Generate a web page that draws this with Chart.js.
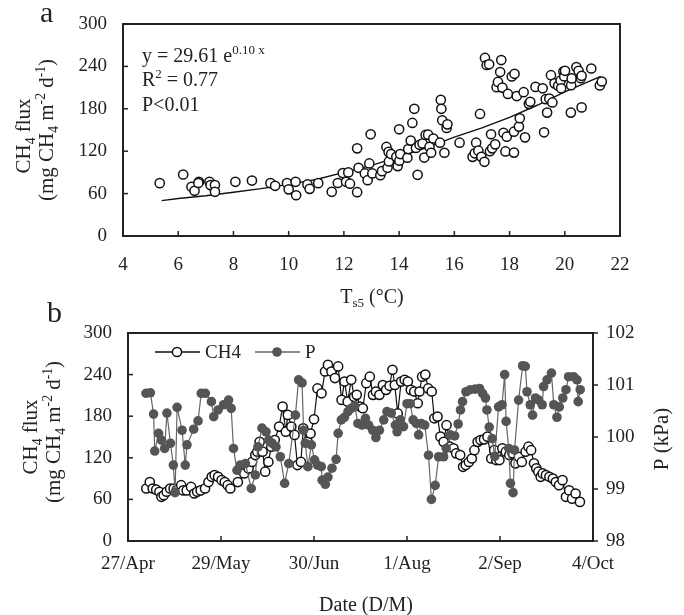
<!DOCTYPE html>
<html>
<head>
<meta charset="utf-8">
<script src="https://cdn.jsdelivr.net/npm/chart.js@4.4.1/dist/chart.umd.min.js"></script>
<style>
  body { margin: 0; background: #fff; }
  canvas { position: absolute; left: 0; }
  #chartA { top: 0; }
  #chartB { top: 300px; }
</style>
</head>
<body>
<canvas id="chartA" width="684" height="315"></canvas>
<canvas id="chartB" width="684" height="315"></canvas>
<script>
// ---- panel a: soil temperature (Ts5) vs CH4 flux ----
const soilTemp = [5.33,6.18,6.48,6.59,6.75,6.73,7.13,7.17,7.33,7.33,
  8.07,8.67,9.34,9.51,9.94,10.0,10.25,10.27,10.68,10.76,
  11.07,11.56,11.78,11.96,12.08,12.16,12.22,12.48,12.48,12.53,
  12.76,12.86,12.92,12.97,13.03,13.32,13.38,13.54,13.58,13.63,
  13.62,13.71,13.9,13.95,14.0,14.01,14.04,14.3,14.33,14.42,
  14.48,14.55,14.61,14.67,14.74,14.85,14.91,14.96,15.05,15.1,
  15.16,15.24,15.48,15.51,15.53,15.56,15.64,15.72,15.75,16.19,
  16.66,16.74,16.79,16.87,16.93,16.98,17.09,17.11,17.17,17.26,
  17.29,17.33,17.37,17.48,17.53,17.58,17.66,17.7,17.74,17.78,
  17.85,17.9,17.94,18.08,18.18,18.16,18.16,18.26,18.34,18.37,
  18.51,18.56,18.7,18.75,18.94,19.2,19.25,19.31,19.36,19.44,
  19.5,19.55,19.63,19.76,19.85,19.87,19.95,19.98,20.01,20.22,
  20.23,20.25,20.42,20.5,20.58,20.61,20.61,20.96,21.27,21.34];
const fluxA = [74.8,87,69.6,64,76.7,75,76.7,72,72,62.5,
  76.7,78.5,74.8,71,74.8,66,76.7,57.7,73,66.7,
  74.8,62.5,75,89,76.7,90,74,124,62,96.5,
  88.5,79,102.7,143.9,88.5,86,91.8,126,96.5,105.5,
  119,116,112,98.9,151,106.5,116,110.7,123,135,
  160,180,124.5,86.6,129,131,111,143,143.4,126,
  117.8,138,132,192.6,180,163.7,117.8,153,158,132,
  112,117,132,120.7,172.7,112,105,252,242,243,
  120,144,124,129.7,210.6,218,232,249,210,146,
  119.7,140.5,201,225.7,229.5,147.6,118,198,154.8,166.6,
  203.5,139.6,187,190,211,209,146.7,193.6,174.6,194.5,
  227.6,189,216,212.5,220,209,232.8,225.7,233.8,174.6,
  213.4,223,239,233.8,223.4,182,226.7,237,213,218.6];
// fitted curve
const fitTemp = [5.4,6,7,8,9,10,11,12,13,14,15,16,17,18,19,20,21.3];
const fitFlux = [50,53,57,62,67,73,80,90,100,112,125,140,153,168,185,204,226];

// ---- panel b: time series (days since 27/Apr) ----
const dateLabels = ['27/Apr','29/May','30/Jun','1/Aug','2/Sep','4/Oct'];
const ch4Day = [6.3,7.5,8.5,9.7,10.8,11.5,12.3,13.3,14.5,15.7,
  16.8,18.3,19,20.2,21.7,22.8,23.8,25,26.5,27.7,
  28.8,29.8,31,32.2,33.3,34.3,35.2,37.8,40,41.5,
  42.7,43.8,44.5,45.3,46.3,47.2,48.3,49.3,50.5,52,
  53.2,54.3,55,56.2,57.3,58.3,59.5,60.3,61.8,62.8,
  64,65.2,66.6,67.8,68.8,70,71.2,72.3,73.5,74.5,
  75.6,76.8,77.8,78.7,79.8,80.8,82,83.2,84.3,85.3,
  86.5,87.7,88.8,90,91,91.8,92.8,94,95.2,96.3,
  97.3,98.5,99.7,100.3,101.2,102.3,103.3,104.5,105.4,106.5,
  107.5,108.6,109.6,110.8,112,112.9,114.3,115.3,116.2,117.3,
  118.3,119.2,120.3,121.3,122.5,123.7,125,126,126.7,127.8,
  128.8,130,131.2,132.3,133.3,134.5,135.5,136.8,137.8,138.7,
  139.7,140.5,141.2,142,142.7,143.8,145,146.2,147.2,148.3,
  149.5,150.7,151.8,152.8,154,155.5];
const ch4Flux = [75.7,85,75.7,74,71,63.7,66,71,75.7,75.7,
  74,80.5,73,73,78,68.5,71,73,75.7,85,
  92.6,95,92.6,87.8,85,80.5,75.7,85,97.4,104.7,
  114,124,128.8,143,128.8,100,114,136,145.7,165,
  194,157.7,181.8,165,153,109.5,114,162.5,143,155,
  175.6,220,213,244.5,254,244.5,235,251.8,203.5,230,
  201,232.5,208,210.8,194,191.5,227.6,237,210.8,215.6,
  210.8,225,218,223.8,247,225,184,230,232.5,230,
  218,215.6,198.7,215.6,237,240,220,215.6,177,179.4,
  150.5,143,167,136,133.6,126.4,124,107,109.5,114,
  119,131,143,145.7,146.6,150.5,119,131,116.7,116.7,
  133.6,128.8,124,126.4,112,121.5,114,128.8,136,131,
  112,104.7,100,92.6,97.4,95,92.6,90,85,80.5,
  87.8,63.7,73,61,68.5,56.4];
const pDay = [6.2,7.7,8.8,9.2,10.5,11.5,12.6,13.4,14.6,15.6,
  16.2,16.9,18.6,19.7,20.3,22.6,24.1,25.2,26.6,28.7,
  29.5,31.0,32.9,34.6,35.5,36.3,37.5,38.6,40.4,42.4,
  43.8,44.7,46.1,47.5,48.4,49.6,50.9,52.4,53.9,55.3,
  57.6,58.7,59.9,60.4,61.0,61.9,63.1,64.2,65.2,66.5,
  66.8,67.9,68.8,70.2,71.6,72.3,73.4,74.5,75.7,76.8,
  78.0,79.1,80.5,81.7,82.8,84.2,85.3,86.5,88.0,89.1,
  90.6,92.0,92.6,93.7,94.8,96.0,97.1,98.1,99.2,100.0,
  100.9,102.1,103.4,104.4,105.7,106.9,108.6,109.5,110.9,112.4,
  113.6,114.4,115.1,116.3,117.8,119.5,121.0,122.0,123.0,123.5,
  124.3,125.3,126.2,127.5,128.7,129.6,130.1,131.0,131.6,132.5,
  133.0,134.4,135.8,136.7,137.3,138.4,139.2,140.2,141.3,142.5,
  143.0,144.2,145.7,146.5,147.6,148.4,149.6,150.7,151.6,153.3,
  154.5,154.9,155.6];
const pKpa = [100.84,100.85,100.44,99.73,100.07,99.94,99.78,100.46,99.88,99.46,
  98.93,100.57,100.13,99.46,99.85,100.15,100.31,100.84,100.84,100.68,
  100.39,100.52,100.62,100.71,100.55,99.78,99.36,99.46,99.49,99.01,
  99.27,99.81,100.17,100.10,99.94,99.88,99.81,99.62,99.11,99.49,
  100.42,101.10,101.04,100.13,99.88,99.43,99.85,99.56,99.46,99.43,
  99.17,99.09,99.23,99.40,99.57,100.07,100.33,100.38,100.49,100.55,
  100.6,100.26,100.23,100.36,100.23,100.13,99.99,100.13,100.33,100.49,
  100.46,100.23,100.10,100.33,100.2,100.64,100.64,100.33,100.26,100.04,
  100.26,100.23,99.65,98.80,99.07,99.62,99.62,99.78,100.04,100.02,
  100.25,100.52,100.68,100.87,100.91,100.92,100.93,100.84,100.75,100.52,
  100.19,99.97,99.63,100.58,100.62,101.2,100.30,99.78,99.11,98.93,
  99.75,100.71,101.37,101.36,100.87,100.62,100.42,100.75,100.71,100.62,
  100.97,101.1,101.23,100.62,100.38,100.58,100.75,100.91,101.16,101.16,
  101.1,100.68,100.91];

const FONT = '"Liberation Serif", "Times New Roman", serif';
const INK = '#222';
const tickFont = { family: FONT, size: 19 };

// text with sub/superscripts: parts = [[text, 'sub'|'sup'|undefined], ...]
function richWidth(ctx, parts, size) {
  let w = 0;
  parts.forEach(p => {
    ctx.font = (p[1] ? size * 0.65 : size) + 'px ' + FONT;
    w += ctx.measureText(p[0]).width;
  });
  return w;
}
function drawRich(ctx, parts, x, y, size, align) {
  let cx = align === 'center' ? x - richWidth(ctx, parts, size) / 2 : x;
  ctx.textAlign = 'left';
  ctx.textBaseline = 'alphabetic';
  parts.forEach(p => {
    const s = p[1] ? size * 0.65 : size;
    ctx.font = s + 'px ' + FONT;
    const dy = p[1] === 'sub' ? size * 0.22 : p[1] === 'sup' ? -size * 0.4 : 0;
    ctx.fillText(p[0], cx, y + dy);
    cx += ctx.measureText(p[0]).width;
  });
}
function drawRotated(ctx, parts, x, y, size) {
  ctx.save();
  ctx.translate(x, y);
  ctx.rotate(-Math.PI / 2);
  drawRich(ctx, parts, 0, 0, size, 'center');
  ctx.restore();
}
function tickMarks(ctx, scale, area, side, len) {
  scale.ticks.forEach(t => {
    const p = scale.getPixelForValue(t.value);
    ctx.beginPath();
    if (side === 'bottom') { ctx.moveTo(p, area.bottom); ctx.lineTo(p, area.bottom - len); }
    if (side === 'left') { ctx.moveTo(area.left, p); ctx.lineTo(area.left + len, p); }
    if (side === 'right') { ctx.moveTo(area.right, p); ctx.lineTo(area.right + len, p); }
    ctx.stroke();
  });
}
function frame(ctx, a) {
  ctx.strokeStyle = INK;
  ctx.lineWidth = 2;
  ctx.strokeRect(a.left, a.top, a.right - a.left, a.bottom - a.top);
}
const fluxTitle1 = [['CH'], ['4', 'sub'], [' flux']];
const fluxTitle2 = [['(mg CH'], ['4', 'sub'], [' m'], ['-2', 'sup'], [' d'], ['-1', 'sup'], [')']];

// ---------------- chart a ----------------
const panelA = {
  id: 'panelA',
  afterDraw(chart) {
    const ctx = chart.ctx, a = chart.chartArea;
    ctx.save();
    frame(ctx, a);
    ctx.lineWidth = 1.5;
    tickMarks(ctx, chart.scales.x, a, 'bottom', 5);
    tickMarks(ctx, chart.scales.y, a, 'left', 5);
    ctx.fillStyle = INK;
    drawRich(ctx, [['a']], 40, 22, 30, 'left');
    drawRotated(ctx, fluxTitle1, 30, 136, 21);
    drawRotated(ctx, fluxTitle2, 53, 130, 21);
    drawRich(ctx, [['T'], ['s5', 'sub'], [' (°C)']], 372, 303, 20, 'center');
    drawRich(ctx, [['y = 29.61 e'], ['0.10 x', 'sup']], 142, 62, 20, 'left');
    drawRich(ctx, [['R'], ['2', 'sup'], [' = 0.77']], 142, 86, 20, 'left');
    drawRich(ctx, [['P<0.01']], 142, 111, 20, 'left');
    ctx.restore();
  }
};

new Chart(document.getElementById('chartA'), {
  type: 'scatter',
  data: {
    datasets: [
      {
        data: soilTemp.map((t, i) => ({ x: t, y: fluxA[i] })),
        pointRadius: 4.6,
        pointBorderWidth: 1.5,
        pointBorderColor: '#111',
        pointBackgroundColor: '#fff',
        order: 0
      },
      {
        data: fitTemp.map((t, i) => ({ x: t, y: fitFlux[i] })),
        showLine: true,
        borderColor: '#111',
        borderWidth: 1.4,
        pointRadius: 0,
        order: 1
      }
    ]
  },
  options: {
    responsive: false,
    animation: false,
    devicePixelRatio: 1,
    layout: { padding: { top: 24, right: 64, left: 0, bottom: 0 } },
    plugins: { legend: { display: false }, tooltip: { enabled: false } },
    scales: {
      x: {
        type: 'linear', min: 4, max: 22,
        ticks: { stepSize: 2, font: tickFont, color: INK, padding: 10, maxRotation: 0 },
        grid: { display: false },
        border: { display: false },
        afterFit: s => { s.height = 79; }
      },
      y: {
        min: 0, max: 300,
        ticks: { stepSize: 60, font: tickFont, color: INK, padding: 8 },
        grid: { display: false },
        border: { display: false },
        afterFit: s => { s.width = 123; }
      }
    }
  },
  plugins: [panelA]
});

// ---------------- chart b ----------------
const panelB = {
  id: 'panelB',
  afterDraw(chart) {
    const ctx = chart.ctx, a = chart.chartArea;
    ctx.save();
    frame(ctx, a);
    ctx.lineWidth = 1.5;
    tickMarks(ctx, chart.scales.x, a, 'bottom', 5);
    tickMarks(ctx, chart.scales.y, a, 'left', 5);
    tickMarks(ctx, chart.scales.y1, a, 'right', 5);
    ctx.fillStyle = INK;
    drawRich(ctx, [['b']], 47, 22, 30, 'left');
    drawRotated(ctx, fluxTitle1, 37, 137, 21);
    drawRotated(ctx, fluxTitle2, 60, 132, 21);
    drawRotated(ctx, [['P (kPa)']], 668, 139, 21);
    drawRich(ctx, [['Date (D/M)']], 366, 311, 20, 'center');
    // legend: line + marker + label
    const ly = 52;
    ctx.lineWidth = 1.3;
    ctx.strokeStyle = '#111';
    ctx.beginPath(); ctx.moveTo(155, ly); ctx.lineTo(200, ly); ctx.stroke();
    ctx.beginPath(); ctx.arc(177, ly, 4.6, 0, Math.PI * 2);
    ctx.fillStyle = '#fff'; ctx.fill(); ctx.lineWidth = 1.5; ctx.stroke();
    ctx.strokeStyle = '#666'; ctx.lineWidth = 1.3;
    ctx.beginPath(); ctx.moveTo(255, ly); ctx.lineTo(300, ly); ctx.stroke();
    ctx.beginPath(); ctx.arc(277, ly, 4.8, 0, Math.PI * 2);
    ctx.fillStyle = '#555'; ctx.fill();
    ctx.fillStyle = INK;
    ctx.font = '19px ' + FONT;
    ctx.textAlign = 'left';
    ctx.textBaseline = 'middle';
    ctx.fillText('CH4', 205, ly + 1);
    ctx.fillText('P', 305, ly + 1);
    ctx.restore();
  }
};

new Chart(document.getElementById('chartB'), {
  type: 'line',
  data: {
    datasets: [
      {
        label: 'CH4',
        data: ch4Day.map((d, i) => ({ x: d, y: ch4Flux[i] })),
        yAxisID: 'y',
        borderColor: '#111',
        borderWidth: 1.2,
        pointRadius: 4.6,
        pointBorderWidth: 1.5,
        pointBorderColor: '#111',
        pointBackgroundColor: '#fff',
        tension: 0,
        order: 1
      },
      {
        label: 'P',
        data: pDay.map((d, i) => ({ x: d, y: pKpa[i] })),
        yAxisID: 'y1',
        borderColor: '#666',
        borderWidth: 1.2,
        pointRadius: 4.8,
        pointBorderWidth: 0,
        pointBackgroundColor: '#555',
        tension: 0,
        order: 0
      }
    ]
  },
  options: {
    responsive: false,
    animation: false,
    devicePixelRatio: 1,
    layout: { padding: { top: 33, right: 0, left: 0, bottom: 0 } },
    plugins: { legend: { display: false }, tooltip: { enabled: false } },
    scales: {
      x: {
        type: 'linear', min: 0, max: 160,
        ticks: {
          stepSize: 32, font: tickFont, color: INK, padding: 4, maxRotation: 0,
          callback: v => dateLabels[Math.round(v / 32)]
        },
        grid: { display: false },
        border: { display: false },
        afterFit: s => { s.height = 74; }
      },
      y: {
        position: 'left', min: 0, max: 300,
        ticks: { stepSize: 60, font: tickFont, color: INK, padding: 8 },
        grid: { display: false },
        border: { display: false },
        afterFit: s => { s.width = 128; }
      },
      y1: {
        position: 'right', min: 98, max: 102,
        ticks: { stepSize: 1, font: tickFont, color: INK, padding: 5 },
        grid: { display: false },
        border: { display: false },
        afterFit: s => { s.width = 91; }
      }
    }
  },
  plugins: [panelB]
});
</script>
</body>
</html>
